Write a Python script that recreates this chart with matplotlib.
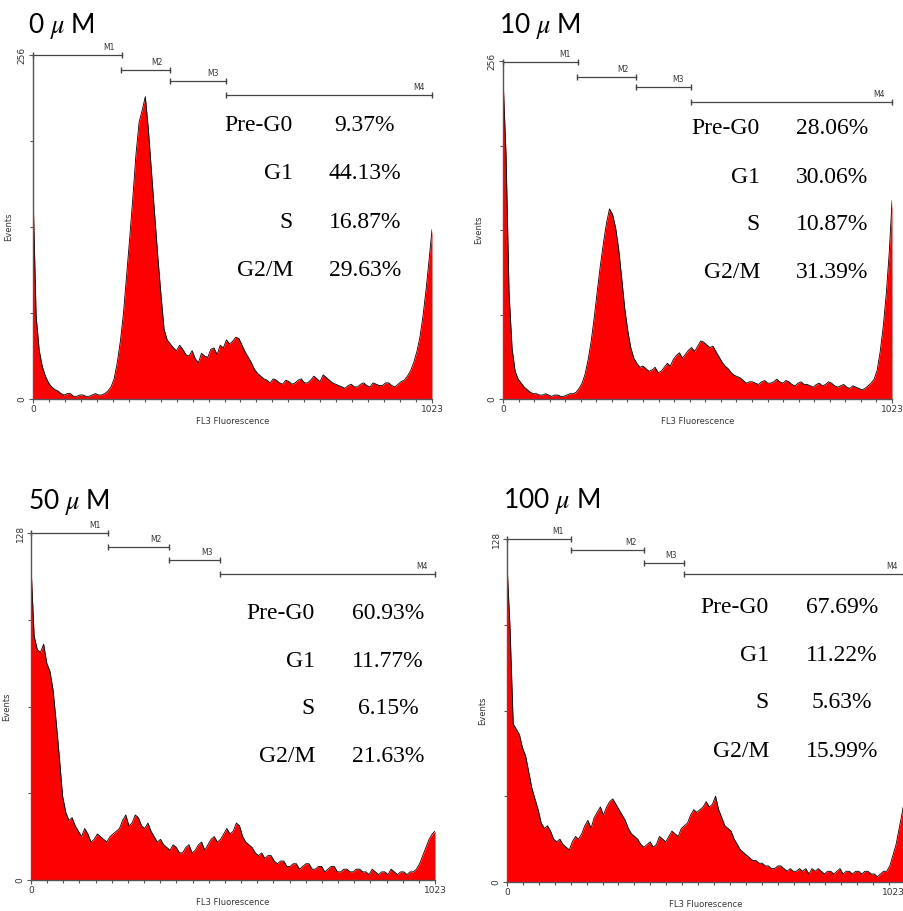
import numpy as np
import matplotlib.pyplot as plt

plt.rcParams['mathtext.fontset'] = 'stix'

# channel grid of the histograms (every 8 channels, plus the last one)
channels = list(range(0, 1024, 8)) + [1023]

# event counts
counts_0uM = [155, 62, 36, 24, 17, 12, 9, 7, 6, 4, 3, 4, 4, 2, 2, 3,
              3, 2, 2, 3, 4, 3, 3, 4, 6, 9, 15, 27, 43, 64, 92, 120,
              150, 182, 206, 215, 225, 200, 168, 137, 106, 78, 52, 44, 41, 38, 36, 40,
              37, 33, 32, 36, 30, 27, 34, 32, 31, 37, 38, 33, 40, 38, 44, 41,
              43, 46, 45, 40, 35, 31, 27, 22, 19, 17, 15, 14, 12, 15, 14, 12,
              11, 14, 13, 11, 12, 14, 15, 12, 12, 14, 17, 15, 13, 18, 16, 14,
              12, 11, 10, 9, 8, 10, 11, 9, 9, 11, 12, 10, 9, 12, 11, 10,
              10, 12, 12, 10, 9, 11, 13, 14, 17, 21, 27, 35, 46, 62, 82, 105,
              126]
counts_10uM = [244, 185, 80, 38, 21, 15, 12, 9, 7, 5, 4, 4, 3, 3, 4, 3,
               2, 3, 3, 2, 2, 3, 4, 4, 5, 8, 12, 19, 30, 44, 62, 82,
               101, 118, 133, 144, 140, 130, 114, 92, 69, 52, 39, 31, 27, 24, 25, 23,
               21, 22, 24, 20, 21, 24, 27, 25, 30, 33, 35, 31, 34, 37, 39, 36,
               40, 44, 43, 41, 39, 40, 36, 32, 28, 25, 23, 20, 18, 17, 16, 14,
               12, 13, 13, 12, 11, 13, 14, 12, 12, 13, 15, 13, 12, 14, 13, 11,
               10, 12, 13, 11, 11, 10, 9, 11, 12, 10, 11, 13, 12, 10, 9, 10,
               11, 9, 8, 10, 9, 8, 7, 8, 10, 12, 15, 22, 36, 55, 80, 112,
               150]
counts_50uM = [116, 90, 85, 84, 87, 80, 77, 70, 58, 45, 31, 25, 22, 23, 20, 18,
               16, 19, 17, 14, 15, 17, 16, 15, 14, 16, 17, 18, 19, 22, 24, 20,
               21, 24, 23, 20, 19, 21, 18, 16, 14, 15, 13, 12, 11, 13, 12, 10,
               10, 12, 13, 10, 11, 13, 14, 11, 13, 15, 16, 14, 15, 17, 19, 17,
               18, 21, 20, 16, 14, 13, 12, 10, 9, 10, 8, 9, 9, 7, 6, 7,
               7, 5, 5, 6, 6, 4, 5, 6, 6, 4, 4, 5, 5, 3, 4, 5,
               5, 3, 3, 4, 4, 3, 3, 4, 4, 3, 3, 2, 4, 3, 2, 3,
               3, 2, 4, 3, 2, 3, 3, 2, 3, 3, 4, 6, 9, 12, 15, 17,
               18]
counts_100uM = [119, 94, 59, 57, 55, 50, 47, 41, 35, 31, 27, 22, 20, 21, 19, 16,
                15, 16, 14, 13, 12, 15, 17, 16, 18, 21, 23, 20, 24, 26, 28, 25,
                28, 30, 31, 29, 27, 25, 23, 20, 18, 17, 16, 14, 13, 14, 15, 13,
                14, 17, 16, 15, 17, 19, 18, 17, 20, 21, 22, 25, 27, 26, 27, 28,
                30, 28, 29, 32, 27, 24, 21, 20, 19, 16, 14, 12, 11, 10, 9, 8,
                8, 7, 7, 6, 6, 5, 5, 6, 6, 5, 4, 5, 4, 4, 5, 4,
                5, 3, 5, 4, 5, 4, 3, 4, 4, 3, 4, 5, 3, 4, 4, 3,
                4, 4, 3, 4, 4, 3, 3, 2, 3, 4, 4, 6, 10, 14, 20, 26,
                32]

titles = ['0 $\\mu$ M', '10 $\\mu$ M', '50 $\\mu$ M', '100 $\\mu$ M']
y_max = [256, 256, 128, 128]
phases = ['Pre-G0', 'G1', 'S', 'G2/M']
pct_0uM = ['9.37%', '44.13%', '16.87%', '29.63%']
pct_10uM = ['28.06%', '30.06%', '10.87%', '31.39%']
pct_50uM = ['60.93%', '11.77%', '6.15%', '21.63%']
pct_100uM = ['67.69%', '11.22%', '5.63%', '15.99%']

# marker gates M1..M4 (channel ranges)
gates_0uM = [(0, 228), (226, 351), (351, 495), (495, 1023)]
gates_10uM = [(0, 197), (195, 350), (350, 495), (495, 1023)]
gates_50uM = [(0, 195), (195, 349), (349, 478), (478, 1023)]
gates_100uM = [(0, 165), (165, 351), (351, 454), (454, 1023)]

W, H = 904, 911
fig = plt.figure(figsize=(W / 100, H / 100), dpi=100)
fig.patch.set_facecolor('white')

panels = [
    dict(counts=counts_0uM, pct=pct_0uM, gates=gates_0uM,
         box=(33, 55, 432, 399), title_xy=(28, 33), lab_x=293, val_x=365,
         rows=[131, 179, 228, 276], gate_y=[256, 245, 237, 226]),
    dict(counts=counts_10uM, pct=pct_10uM, gates=gates_10uM,
         box=(503, 61, 892, 399), title_xy=(499, 33), lab_x=760, val_x=832,
         rows=[134, 183, 230, 278], gate_y=[255, 244, 236, 225]),
    dict(counts=counts_50uM, pct=pct_50uM, gates=gates_50uM,
         box=(31, 533, 435, 880), title_xy=(28, 509), lab_x=315, val_x=388,
         rows=[619, 667, 714, 762], gate_y=[128, 123, 118, 113]),
    dict(counts=counts_100uM, pct=pct_100uM, gates=gates_100uM,
         box=(507, 539, 905, 882), title_xy=(503, 508), lab_x=769, val_x=842,
         rows=[613, 661, 708, 757], gate_y=[128, 124, 119, 115]),
]

for i, p in enumerate(panels):
    l, t, r, b = p['box']
    ax = fig.add_axes([l / W, 1 - b / H, (r - l) / W, (b - t) / H])
    ymax = y_max[i]

    ax.fill_between(channels, p['counts'], 0, color='#ff0000', lw=0)
    ax.plot(channels, p['counts'], color='black', lw=0.6)
    ax.set_xlim(0, 1023)
    ax.set_ylim(0, ymax)

    for s in ['top', 'right']:
        ax.spines[s].set_visible(False)
    for s in ['left', 'bottom']:
        ax.spines[s].set_color('#555555')
        ax.spines[s].set_linewidth(1.0)

    ax.set_xticks([0, 1023])
    ax.set_xticks(np.linspace(0, 1023, 26)[1:-1], minor=True)
    ax.set_yticks([0, ymax])
    ax.set_yticks([ymax / 4, ymax / 2, ymax * 3 / 4], minor=True)
    ax.tick_params(which='both', direction='out', color='#555555', width=0.8)
    ax.tick_params(which='major', length=3, labelsize=6.5, labelcolor='#333333', pad=1.5)
    ax.tick_params(which='minor', length=2.5)
    for lab in ax.get_yticklabels():
        lab.set_rotation(90)
        lab.set_va('center')
    if r > W - 5:
        # last panel runs to the picture edge
        ax.get_xticklabels()[1].set_ha('right')
    ax.set_xlabel('FL3 Fluorescence', fontsize=6, color='#333333', labelpad=2)
    ax.set_ylabel('Events', fontsize=6, color='#333333', labelpad=3)

    # marker gates
    for k, (g0, g1) in enumerate(p['gates']):
        gy = p['gate_y'][k]
        ax.plot([g0, g1], [gy, gy], color='#444444', lw=0.9, marker='|',
                markersize=4, clip_on=False)
        ax.annotate('M%d' % (k + 1), (g1, gy), xytext=(-13, 3),
                    textcoords='offset pixels', ha='center', va='bottom',
                    fontsize=5.5, color='#333333', annotation_clip=False)

    # panel title
    tx, ty = p['title_xy']
    fig.text(tx / W, 1 - ty / H, titles[i], fontsize=19, family='Lato',
             va='baseline', ha='left')

    # phase percentages
    for k, name in enumerate(phases):
        yy = 1 - p['rows'][k] / H
        fig.text(p['lab_x'] / W, yy, name, fontsize=17, family='Liberation Serif',
                 ha='right', va='baseline')
        fig.text(p['val_x'] / W, yy, p['pct'][k], fontsize=17,
                 family='Liberation Serif', ha='center', va='baseline')

fig.savefig('out.png', dpi=100, facecolor='white')
